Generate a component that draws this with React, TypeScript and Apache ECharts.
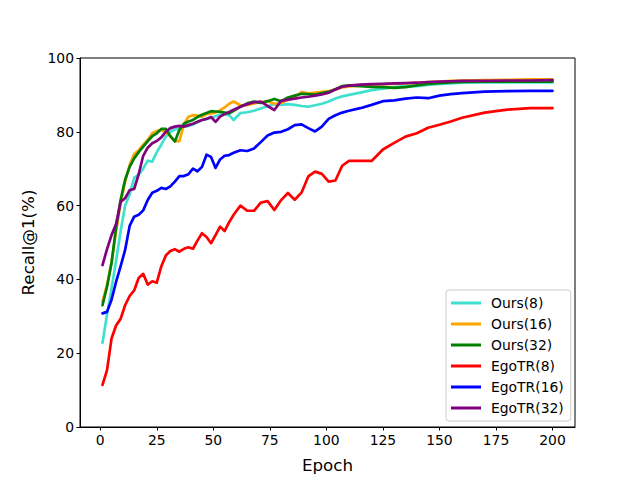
import React, { useEffect, useRef } from "react";
import * as echarts from "echarts";

const epochs = [
  1, 3, 5, 7, 9, 11, 13, 15, 17, 19, 21, 23, 25, 27, 29, 31, 33, 35, 37, 39, 41, 43, 45, 47, 49, 51, 53, 55, 57, 59,
  62, 65, 68, 71, 74, 77, 80, 83, 86, 89, 92, 95, 98, 101, 104, 107, 110,
  115, 120, 125, 130, 135, 140, 145, 150, 155, 160, 170, 180, 190, 200,
];

const ours8 = [
  22.8, 30.5, 37.5, 45, 53, 60, 63, 67.5, 68.4, 70, 72.2, 71.9, 74.5, 76.5, 78.7, 80, 80.6, 81, 81.4, 81.6, 82, 82.6, 83.2, 83.5, 83.8, 84.2, 84.6, 84.8, 84.5, 83.2,
  85.1, 85.3, 85.7, 86.3, 86.9, 87.5, 87.3, 87.5, 87.3, 87, 86.8, 87.2, 87.6, 88.2, 89, 89.6, 90,
  90.6, 91.3, 91.7, 92.1, 92.4, 92.4, 92.7, 93, 93.1, 93.3, 93.4, 93.4, 93.4, 93.4,
];

const ours16 = [
  34, 38.5, 44.5, 53, 60.5, 66.5, 71, 74, 75, 76.5, 77.8, 79.6, 80.2, 80.5, 79.8, 78.8, 77.5, 77.5, 82, 84.1, 84.5, 84.4, 84.1, 84.8, 85, 85.2, 85.8, 86.6, 87.6, 88.2,
  87.2, 87.2, 87.7, 88, 88.3, 87.6, 87.8, 88.7, 89.3, 90.8, 90.4, 90.6, 90.8, 91, 91.5, 92, 92.3,
  92.5, 92.7, 92.9, 93, 93.1, 93.3, 93.5, 93.6, 93.8, 93.9, 94, 94.1, 94.2, 94.2,
];

const ours32 = [
  33, 38, 44.5, 54, 61.5, 67, 70.5, 72.8, 74.5, 76, 77.5, 78.8, 79.6, 80.8, 80.8, 78.8, 77.4, 80.5, 82.2, 82.8, 83.2, 84, 84.6, 85.1, 85.6, 85.5, 85.4, 85.2, 85, 85.7,
  86.8, 87.7, 88.2, 87.8, 88.3, 88.9, 88.3, 89.3, 89.8, 90.3, 90.2, 90.1, 90.5, 90.8, 91.5, 92.4, 92.6,
  92.4, 92.2, 92.1, 91.9, 92.1, 92.6, 93, 93.2, 93.4, 93.5, 93.6, 93.6, 93.6, 93.6,
];

const egotr8 = [
  11.4, 15.4, 24, 27.5, 29.3, 33, 35.5, 37, 40.4, 41.5, 38.6, 39.5, 39.1, 43.5, 46.5, 47.7, 48.2, 47.5, 48.3, 48.7, 48.3, 50.5, 52.5, 51.5, 49.8, 52, 54.3, 53.1, 55.5, 57.5,
  60, 58.6, 58.6, 60.8, 61.2, 58.8, 61.5, 63.4, 61.6, 63.5, 67.9, 69.2, 68.6, 66.5, 66.8, 70.8, 72.1,
  72.1, 72.1, 75.2, 77, 78.7, 79.6, 81.1, 81.9, 82.8, 83.8, 85.2, 86, 86.4, 86.4,
];

const egotr16 = [
  30.8, 31.2, 34.5, 39.3, 43.5, 48, 54.5, 57, 57.5, 58.7, 61.5, 63.5, 64, 64.8, 64.5, 65.2, 66.5, 68, 68, 68.5, 70, 69.3, 70.5, 73.8, 73.2, 70.2, 72.5, 73.5, 73.7, 74.3,
  75, 74.8, 75.5, 77.2, 79, 79.8, 80, 80.7, 81.8, 82, 81, 80.1, 81.4, 83.5, 84.5, 85.2, 85.7,
  86.4, 87.3, 88.3, 88.5, 89, 89.3, 89.1, 89.8, 90.2, 90.5, 90.9, 91, 91.1, 91.1,
];

const egotr32 = [
  43.9, 48.2, 52, 55, 61, 62, 64.2, 64.5, 68.5, 73.5, 75.7, 76.9, 77.5, 78.5, 80, 81, 81.4, 81.6, 81.4, 81.8, 82.2, 82.7, 83.2, 83.5, 84, 82.7, 84.1, 84.8, 85.4, 86,
  86.8, 87.5, 88, 88.2, 87, 85.9, 88.4, 88.7, 89, 89.3, 89.5, 89.8, 90.1, 90.6, 91.5, 92.2, 92.5,
  92.8, 92.9, 93, 93.1, 93.2, 93.3, 93.5, 93.6, 93.7, 93.8, 93.8, 93.9, 93.9, 94,
];

const seriesNames = ["Ours(8)", "Ours(16)", "Ours(32)", "EgoTR(8)", "EgoTR(16)", "EgoTR(32)"];
const seriesValues = [ours8, ours16, ours32, egotr8, egotr16, egotr32];
const seriesColors = ["#40E0D0", "#FFA500", "#008000", "#FF0000", "#0000FF", "#800080"];

const xTicks = [0, 25, 50, 75, 100, 125, 150, 175, 200];

const FONT = "DejaVu Sans";

export default function App() {
  const ref = useRef<HTMLDivElement>(null);
  useEffect(() => {
    if (!ref.current) return;
    const chart = echarts.init(ref.current, undefined, { renderer: "svg" });
    chart.setOption({
      animation: false,
      backgroundColor: "#ffffff",
      textStyle: { fontFamily: FONT },
      grid: {
        left: 80,
        right: 65,
        top: 58,
        bottom: 53,
        show: true,
        borderColor: "#000",
        borderWidth: 1,
        backgroundColor: "transparent",
      },
      xAxis: {
        type: "value",
        min: -8.95,
        max: 209.95,
        name: "Epoch",
        nameLocation: "middle",
        nameGap: 29,
        nameTextStyle: { fontFamily: FONT, fontSize: 16.7, color: "#000" },
        axisLine: { show: true, onZero: false, lineStyle: { color: "#000", width: 1 } },
        axisTick: {
          show: true,
          length: 3.5,
          customValues: xTicks,
          lineStyle: { color: "#000" },
        },
        axisLabel: {
          customValues: xTicks,
          fontFamily: FONT,
          fontSize: 13.9,
          color: "#000",
          margin: 6,
        },
        splitLine: { show: false },
      },
      yAxis: {
        type: "value",
        min: 0,
        max: 100,
        interval: 20,
        name: "Recall@1(%)",
        nameLocation: "middle",
        nameGap: 42,
        nameTextStyle: { fontFamily: FONT, fontSize: 16.7, color: "#000" },
        axisLine: { show: true, onZero: false, lineStyle: { color: "#000", width: 1 } },
        axisTick: { show: true, length: 3.5, lineStyle: { color: "#000" } },
        axisLabel: { fontFamily: FONT, fontSize: 13.9, color: "#000", margin: 6 },
        splitLine: { show: false },
      },
      legend: {
        orient: "vertical",
        left: 446,
        top: 290,
        padding: [6, 7, 6, 5],
        backgroundColor: "#ffffff",
        borderColor: "#cccccc",
        borderWidth: 1,
        borderRadius: 3,
        itemWidth: 30,
        itemHeight: 3,
        itemGap: 7,
        icon: "rect",
        textStyle: { fontFamily: FONT, fontSize: 13.9, color: "#000", padding: [0, 0, 0, 5] },
        data: seriesNames,
      },
      series: seriesNames.map((name, si) => ({
        name,
        type: "line",
        showSymbol: false,
        symbol: "none",
        color: seriesColors[si],
        lineStyle: { color: seriesColors[si], width: 2.7, join: "round", cap: "round" },
        data: epochs.map((e, i) => [e, seriesValues[si][i]]),
      })),
    });
    return () => chart.dispose();
  }, []);
  return (
    <div
      ref={ref}
      style={{ position: "fixed", left: 0, top: 0, width: 640, height: 480, background: "#fff" }}
    />
  );
}
